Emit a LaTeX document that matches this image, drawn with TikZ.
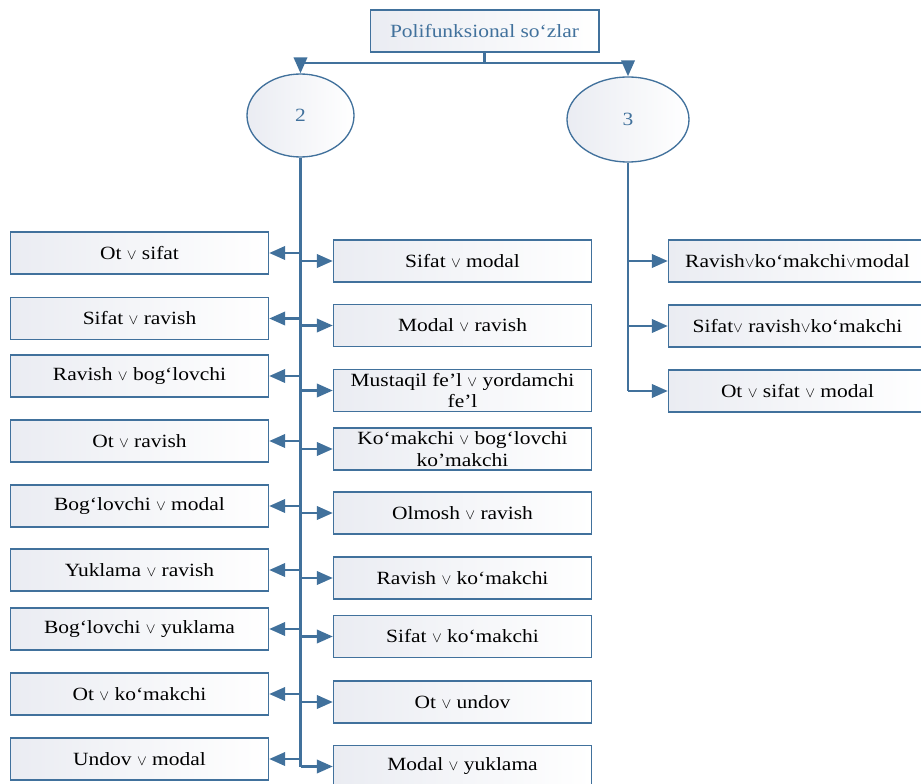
\documentclass[tikz,border=0pt]{standalone}
\usepackage{fontspec}
\setmainfont{Liberation Serif}[FakeStretch=1.15]
\usetikzlibrary{arrows.meta,shapes.geometric}
\definecolor{lineblue}{RGB}{65,113,156}
\definecolor{boxshade}{RGB}{234,236,242}
\newcommand{\orv}{{\fontsize{11}{11}\selectfont$\vee$}}

\begin{document}
\begin{tikzpicture}[x=0.75pt,y=-0.75pt,
    every node/.style={font=\fontsize{14}{16}\selectfont},
    item/.style={rectangle,draw=lineblue,line width=1pt,left color=boxshade,right color=white,
                 minimum width=193.5pt,minimum height=31.5pt,inner sep=1pt,align=center},
    head/.style={item,minimum width=171.5pt,text=lineblue},
    group/.style={ellipse,draw=lineblue,line width=1pt,left color=boxshade,right color=white,
                  text=lineblue,inner sep=0pt},
    link/.style={draw=lineblue,line width=2pt},
    arr/.style={link,-{Triangle[length=12pt,width=10pt]}},
  ]
  \useasboundingbox (0,0) rectangle (921,784);

  % ---------------------------------------------------------------- top
  \node[head] (top) at (484.5,31) {Polifunksional so‘zlar};
  \node[group,minimum width=80.25pt,minimum height=62.25pt] (e2) at (300.5,115.5) {2};
  \node[group,minimum width=91.5pt,minimum height=63.75pt] (e3) at (628,119.5) {3};

  \coordinate (j) at (484.5,63);
  \draw[link] (top.south) -- (j);
  \draw[link] (e2.north |- j) -- (e3.north |- j);
  \draw[arr] (e2.north |- j) -- (e2.north);
  \draw[arr] (e3.north |- j) -- (e3.north);

  % ---------------------------------------------------------------- group 2
  \foreach \n/\y/\t in {1/253/{Ot \orv{} sifat},
                        2/318.5/{Sifat \orv{} ravish},
                        3/376/{Ravish \orv{} bog‘lovchi},
                        4/441/{Ot \orv{} ravish},
                        5/506/{Bog‘lovchi \orv{} modal},
                        6/570/{Yuklama \orv{} ravish},
                        7/629/{Bog‘lovchi \orv{} yuklama},
                        8/694/{Ot \orv{} ko‘makchi},
                        9/759/{Undov \orv{} modal}}
    \node[item] (l\n) at (139.5,\y) {\t};

  \foreach \n/\y/\t in {1/261/{Sifat \orv{} modal},
                        2/325.5/{Modal \orv{} ravish},
                        3/390.5/{Mustaqil fe’l \orv{} yordamchi\\fe’l},
                        4/449/{Ko‘makchi \orv{} bog‘lovchi\\ko’makchi},
                        5/513/{Olmosh \orv{} ravish},
                        6/578/{Ravish \orv{} ko‘makchi},
                        7/636.5/{Sifat \orv{} ko‘makchi},
                        8/702/{Ot \orv{} undov},
                        9/766.5/{Modal \orv{} yuklama}}
    \node[item] (r\n) at (462.5,\y) {\t};

  \draw[link] (e2.south) -- (e2.south |- r9.west);
  \foreach \n in {1,...,9} {
    \draw[arr] (e2.south |- l\n.east) -- (l\n.east);
    \draw[arr] (e2.south |- r\n.west) -- (r\n.west);
  }

  % ---------------------------------------------------------------- group 3
  \foreach \n/\y/\t in {1/261/{Ravish\orv{}ko‘makchi\orv{}modal},
                        2/326/{Sifat\orv{} ravish\orv{}ko‘makchi},
                        3/391/{Ot \orv{} sifat \orv{} modal}}
    \node[item] (t\n) at (797.5,\y) {\t};

  \draw[link] (e3.south) -- (e3.south |- t3.west);
  \foreach \n in {1,2,3}
    \draw[arr] (e3.south |- t\n.west) -- (t\n.west);
\end{tikzpicture}
\end{document}
